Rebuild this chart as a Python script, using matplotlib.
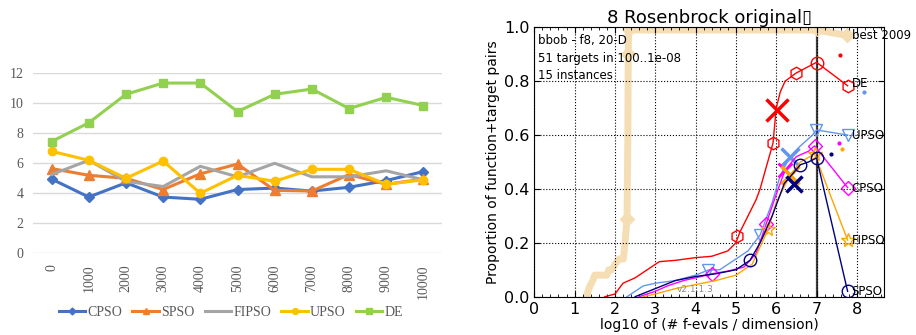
import numpy as np
import matplotlib.pyplot as plt

# ---- left chart data (Excel-style line chart) ----
iterations = ['0', '1000', '2000', '3000', '4000', '5000', '6000', '7000', '8000', '9000', '10000']
cpso = [4.95, 3.75, 4.7, 3.75, 3.6, 4.25, 4.35, 4.15, 4.4, 4.85, 5.45]
spso = [5.65, 5.2, 5.0, 4.25, 5.3, 5.95, 4.2, 4.15, 5.25, 4.6, 4.95]
fipso = [5.25, 6.2, 4.8, 4.45, 5.8, 5.1, 6.0, 5.1, 5.1, 5.5, 4.9]
upso = [6.8, 6.2, 5.0, 6.15, 4.0, 5.2, 4.8, 5.6, 5.6, 4.6, 4.9]
de = [7.45, 8.7, 10.6, 11.35, 11.35, 9.45, 10.6, 10.95, 9.65, 10.4, 9.85]

# ---- right chart data (ECDF of runtimes, bbob f8) ----
best_x = [1.30, 1.33, 1.38, 1.45, 1.50, 1.80, 1.85, 1.92, 2.00, 2.10, 2.21, 2.25, 2.30, 2.32, 2.33, 2.34, 7.0, 7.75]
best_y = [0.0, 0.02, 0.04, 0.06, 0.08, 0.08, 0.10, 0.10, 0.12, 0.14, 0.14, 0.20, 0.29, 0.60, 0.90, 0.99, 0.99, 0.97]

de_x = [1.75, 2.0, 2.1, 2.2, 2.5, 2.9, 3.1, 3.5, 4.0, 4.4, 4.8, 5.0, 5.1, 5.3, 5.5, 5.6, 5.75, 5.92, 6.0, 6.1, 6.22, 6.49, 7.0, 7.77]
de_y = [0.0, 0.01, 0.03, 0.05, 0.07, 0.11, 0.13, 0.135, 0.145, 0.15, 0.17, 0.20, 0.24, 0.30, 0.36, 0.40, 0.48, 0.57, 0.70, 0.76, 0.80, 0.83, 0.87, 0.783]

upso_x = [2.3, 2.5, 2.7, 3.0, 3.5, 4.0, 4.32, 4.6, 5.0, 5.3, 5.6, 5.9, 6.1, 6.34, 6.6, 6.9, 7.0, 7.77]
upso_y = [0.0, 0.02, 0.04, 0.05, 0.06, 0.08, 0.099, 0.10, 0.14, 0.17, 0.229, 0.35, 0.45, 0.52, 0.56, 0.60, 0.619, 0.60]

cpso_x = [2.6, 3.0, 3.3, 3.7, 4.0, 4.4, 4.8, 5.2, 5.5, 5.75, 6.0, 6.22, 6.5, 6.8, 6.95, 7.77]
cpso_y = [0.0, 0.02, 0.04, 0.06, 0.07, 0.085, 0.095, 0.11, 0.16, 0.27, 0.38, 0.47, 0.52, 0.54, 0.56, 0.405]

fipso_x = [2.7, 3.0, 3.5, 4.0, 4.5, 5.0, 5.4, 5.8, 6.0, 6.34, 6.6, 6.95, 7.77]
fipso_y = [0.0, 0.01, 0.03, 0.045, 0.06, 0.08, 0.12, 0.25, 0.35, 0.45, 0.50, 0.53, 0.21]

spso_x = [2.5, 3.0, 3.5, 4.0, 4.5, 5.0, 5.35, 5.6, 5.9, 6.2, 6.43, 6.6, 6.8, 7.0, 7.77]
spso_y = [0.0, 0.03, 0.06, 0.075, 0.085, 0.10, 0.135, 0.20, 0.30, 0.42, 0.46, 0.49, 0.50, 0.515, 0.02]


if __name__ == '__main__':
    fig = plt.figure(figsize=(9.16, 3.35), dpi=100)

    # ===== left: line chart =====
    ax = fig.add_axes([33 / 916, 1 - 253.3 / 335, 409 / 916, 180 / 335])
    pos = np.arange(len(iterations))
    ax.plot(pos, cpso, color='#4472C4', lw=2.2, marker='D', ms=5, label='CPSO')
    ax.plot(pos, spso, color='#ED7D31', lw=2.2, marker='^', ms=7, label='SPSO')
    ax.plot(pos, fipso, color='#A5A5A5', lw=2.2, label='FIPSO')
    ax.plot(pos, upso, color='#FFC000', lw=2.2, marker='o', ms=6, label='UPSO')
    ax.plot(pos, de, color='#92D050', lw=2.2, marker='s', ms=6, label='DE')
    ax.set_xlim(-0.5, len(iterations) - 0.5)
    ax.set_ylim(0, 12)
    ax.set_yticks(range(0, 13, 2))
    ax.set_xticks(pos)
    ax.set_xticklabels(iterations, rotation=90, va='top', ha='center')
    ax.grid(axis='y', color='#D9D9D9', lw=1)
    ax.set_axisbelow(True)
    for s in ax.spines.values():
        s.set_visible(False)
    ax.tick_params(length=0, labelsize=10, labelcolor='#595959', pad=8)
    ax.tick_params(axis='y', pad=7)
    for lab in ax.get_xticklabels() + ax.get_yticklabels():
        lab.set_fontfamily('Liberation Serif')
    fig.legend(loc='center', bbox_to_anchor=(0.252, 0.067), ncol=5, frameon=False,
               prop={'family': 'Liberation Serif', 'size': 10}, labelcolor='#595959',
               handlelength=1.9, handletextpad=0.15, columnspacing=0.75, markerscale=0.7)

    # ===== right: ECDF plot =====
    bx = fig.add_axes([534.3 / 916, 1 - 296.7 / 335, 350 / 916, 269.4 / 335])
    bx.plot(best_x, best_y, color='wheat', lw=5, zorder=1)
    bx.plot([2.3, 2.33, 2.34, 7.0, 7.75], [0.29, 0.9, 0.995, 0.995, 0.97], ls='none',
            marker='D', ms=7, color='wheat', zorder=1)

    bx.plot(de_x, de_y, color='red', lw=1)
    bx.plot([5.02, 5.92, 6.49, 7.77], [0.226, 0.572, 0.83, 0.783], ls='none', marker='h',
            ms=9, mfc='none', mec='red')
    bx.plot([7.01], [0.869], marker='o', ms=9, mfc='none', mec='red')
    bx.plot([6.01], [0.693], marker='x', ms=16, mew=2.5, color='red')
    bx.plot([7.57], [0.897], marker='.', ms=4, color='red')

    bx.plot(upso_x, upso_y, color='cornflowerblue', lw=1)
    bx.plot([4.32, 5.6, 6.99, 7.77], [0.099, 0.229, 0.619, 0.60], ls='none', marker='v',
            ms=9, mfc='none', mec='cornflowerblue')
    bx.plot([6.34], [0.52], marker='x', ms=13, mew=2.5, color='cornflowerblue')
    bx.plot([8.18], [0.761], marker='.', ms=4, color='cornflowerblue')

    bx.plot(cpso_x, cpso_y, color='magenta', lw=1)
    bx.plot([4.4, 5.75, 6.95, 7.77], [0.085, 0.27, 0.56, 0.405], ls='none', marker='D',
            ms=7, mfc='none', mec='magenta')
    bx.plot([6.22], [0.47], marker='x', ms=10, mew=2, color='magenta')
    bx.plot([7.55], [0.57], marker='.', ms=4, color='magenta')

    bx.plot(fipso_x, fipso_y, color='orange', lw=1)
    bx.plot([5.8, 6.95, 7.77], [0.25, 0.53, 0.21], ls='none', marker='*',
            ms=10, mfc='none', mec='orange')
    bx.plot([6.34], [0.45], marker='x', ms=13, mew=2.5, color='orange')
    bx.plot([7.62], [0.55], marker='.', ms=4, color='orange')

    bx.plot(spso_x, spso_y, color='navy', lw=1)
    bx.plot([5.35, 6.6, 7.0, 7.77], [0.135, 0.49, 0.515, 0.02], ls='none', marker='o',
            ms=9, mfc='none', mec='navy')
    bx.plot([6.43], [0.42], marker='x', ms=11, mew=2.5, color='navy')
    bx.plot([7.35], [0.53], marker='.', ms=4, color='navy')

    bx.axvline(7, color='0.25', lw=1.6, zorder=0)

    for name, y in [('best 2009', 0.97), ('DE', 0.79), ('UPSO', 0.60),
                    ('CPSO', 0.40), ('FIPSO', 0.21), ('SPSO', 0.02)]:
        bx.text(7.87, y, name, fontsize=8.5, va='center', ha='left', clip_on=False)

    bx.text(0.1, 0.975, 'bbob - f8, 20-D\n51 targets in 100..1e-08\n15 instances',
            fontsize=8.5, va='top', ha='left', linespacing=1.45)
    bx.text(4.0, 0.01, 'v2.1.1.3', fontsize=6.5, color='0.55', va='bottom', ha='center')

    bx.set_xlim(0, 8.68)
    bx.set_ylim(0, 1)
    bx.set_xticks(range(0, 9))
    bx.set_yticks([0.0, 0.2, 0.4, 0.6, 0.8, 1.0])
    bx.set_yticklabels(['0.0', '0.2', '0.4', '0.6', '0.8', '1.0'])
    bx.set_xticks(np.arange(0, 8.7, 0.2), minor=True)
    bx.grid(color='k', ls=':', lw=0.8)
    bx.tick_params(direction='in', top=True, right=True, labelsize=11.5, length=4)
    bx.tick_params(which='minor', direction='in', top=True, length=2)
    bx.set_xlabel('log10 of (# f-evals / dimension)', fontsize=10, labelpad=1)
    bx.set_ylabel('Proportion of function+target pairs', fontsize=10, labelpad=3)
    bx.set_title('8 Rosenbrock original\u25af', fontsize=13, pad=2)

    fig.savefig('out.png', dpi=100)
